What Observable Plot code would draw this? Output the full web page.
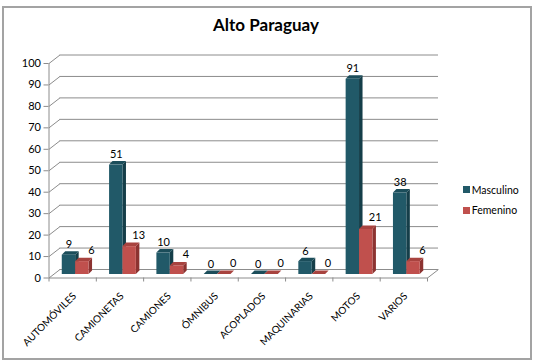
<!DOCTYPE html>
<html><head><meta charset="utf-8">
<script src="https://cdn.jsdelivr.net/npm/d3@7"></script>
<script src="https://cdn.jsdelivr.net/npm/@observablehq/plot@0.6"></script>
<style>
body{margin:0;background:#fff;font-family:Lato,sans-serif;}
#wrap{position:relative;width:535px;height:364px;overflow:hidden;}
#wrap svg{position:absolute;left:0;top:0;}
#border{position:absolute;left:2px;top:6px;width:526px;height:350px;border:2px solid #a3a3a3;pointer-events:none;}
#title{position:absolute;left:0;top:15px;width:532px;text-align:center;font-weight:bold;font-size:17px;line-height:20px;color:#000;}
.sw{position:absolute;width:6.5px;height:6.5px;}
.lt{position:absolute;font-size:10.5px;line-height:14px;color:#000;}
</style></head><body>
<div id="wrap"></div>
<script>
const categories = ["AUTOMÓVILES","CAMIONETAS","CAMIONES","ÓMNIBUS","ACOPLADOS","MAQUINARIAS","MOTOS","VARIOS"];
const masculino = [9, 51, 10, 0, 0, 6, 91, 38];
const femenino  = [6, 13, 4, 0, 0, 0, 21, 6];
const seriesNames = ["Masculino", "Femenino"];
const yTicks = [0, 10, 20, 30, 40, 50, 60, 70, 80, 90, 100];
const titleText = "Alto Paraguay";

const frontColors = ["#215968", "#c0504d"];
const topColors   = ["#1b4d5a", "#a8433f"];
const sideColors  = ["#153e49", "#8c3331"];
const gridColor = "#8c8c8c";

// geometry (category units / value units)
const barW = 0.283, depthX = 0.074, depthY = 1.63;
const wallX = 0.232, wallY = 3.96;
const bdx = 3, bdy = -3.5;

const seriesVals = [masculino, femenino];
const bars = [];
categories.forEach((c, i) => {
  seriesVals.forEach((vals, s) => {
    const x1 = i + 0.5 + (s - 1) * barW;
    bars.push({id: i * 2 + s, cat: c, s, v: vals[i], x1, x2: x1 + barW});
  });
});
const tops = bars.flatMap(b => [
  {id: b.id, s: b.s, x: b.x1, y1: b.v, y2: b.v},
  {id: b.id, s: b.s, x: b.x1 + depthX, y1: b.v, y2: b.v + depthY},
  {id: b.id, s: b.s, x: b.x2, y1: b.v, y2: b.v + depthY},
  {id: b.id, s: b.s, x: b.x2 + depthX, y1: b.v + depthY, y2: b.v + depthY}
]);
const sides = bars.flatMap(b => [
  {id: b.id, s: b.s, x: b.x2, y1: 0, y2: b.v},
  {id: b.id, s: b.s, x: b.x2 + depthX, y1: depthY, y2: b.v + depthY}
]);

const barMarks = [];
[0, 1].forEach(s => {
  barMarks.push(Plot.areaY(sides.filter(d => d.s === s), {x: "x", y1: "y1", y2: "y2", z: "id", fill: sideColors[s], dx: bdx, dy: bdy}));
  barMarks.push(Plot.areaY(tops.filter(d => d.s === s), {x: "x", y1: "y1", y2: "y2", z: "id", fill: topColors[s], dx: bdx, dy: bdy}));
  barMarks.push(Plot.rectY(bars.filter(d => d.s === s), {x1: "x1", x2: "x2", y1: 0, y2: "v", fill: frontColors[s], dx: bdx, dy: bdy}));
});

const chart = Plot.plot({
  width: 535, height: 364,
  marginLeft: 48.5, marginRight: 108, marginTop: 63, marginBottom: 86.5,
  style: {fontFamily: "Lato, sans-serif", fontSize: "11px", background: "transparent"},
  x: {domain: [0, categories.length], axis: null},
  y: {domain: [0, 100], axis: null},
  marks: [
    Plot.ruleY(yTicks, {dx: 11, dy: -8.5, stroke: gridColor}),
    Plot.link(yTicks, {x1: 0, x2: wallX, y1: d => d, y2: d => d + wallY, stroke: gridColor}),
    Plot.link([categories.length], {x1: d => d, x2: d => d + wallX, y1: 0, y2: wallY, stroke: gridColor}),
    Plot.ruleY([0], {stroke: gridColor}),
    Plot.ruleX([0], {y1: 0, y2: 100, stroke: gridColor}),
    Plot.axisY({ticks: yTicks, tickSize: 5, tickPadding: 3, fontSize: 11, stroke: gridColor, fill: "#000", label: null}),
    Plot.axisX({ticks: d3.range(categories.length + 1), tickFormat: () => "", tickSize: 4, stroke: gridColor, label: null}),
    ...barMarks,
    Plot.text(bars, {x: d => (d.x1 + d.x2) / 2, y: "v", text: d => String(d.v), fontSize: 11, fill: "#000",
      filter: d => d.s === 0, dx: bdx, dy: bdy - 10.5}),
    Plot.text(bars, {x: d => (d.x1 + d.x2) / 2, y: "v", text: d => String(d.v), fontSize: 11, fill: "#000",
      filter: d => d.s === 1, dx: bdx + 9, dy: bdy - 11.5}),
    Plot.text(categories, {x: (d, i) => i + 0.5, y: () => 0, text: d => d, rotate: -45, textAnchor: "end", fontSize: 10, fill: "#000", dx: 2, dy: 16.5})
  ]
});
const wrap = document.getElementById("wrap");
wrap.appendChild(chart);

const title = document.createElement("div");
title.id = "title"; title.textContent = titleText;
wrap.appendChild(title);

const legendY = [186.3, 207];
seriesNames.forEach((n, s) => {
  const sw = document.createElement("div");
  sw.className = "sw"; sw.style.left = "463.3px"; sw.style.top = legendY[s] + "px"; sw.style.background = frontColors[s];
  wrap.appendChild(sw);
  const t = document.createElement("div");
  t.className = "lt"; t.style.left = "471.7px"; t.style.top = (legendY[s] + 3.25 - 7) + "px"; t.textContent = n;
  wrap.appendChild(t);
});
const border = document.createElement("div");
border.id = "border";
wrap.appendChild(border);
</script></body></html>
